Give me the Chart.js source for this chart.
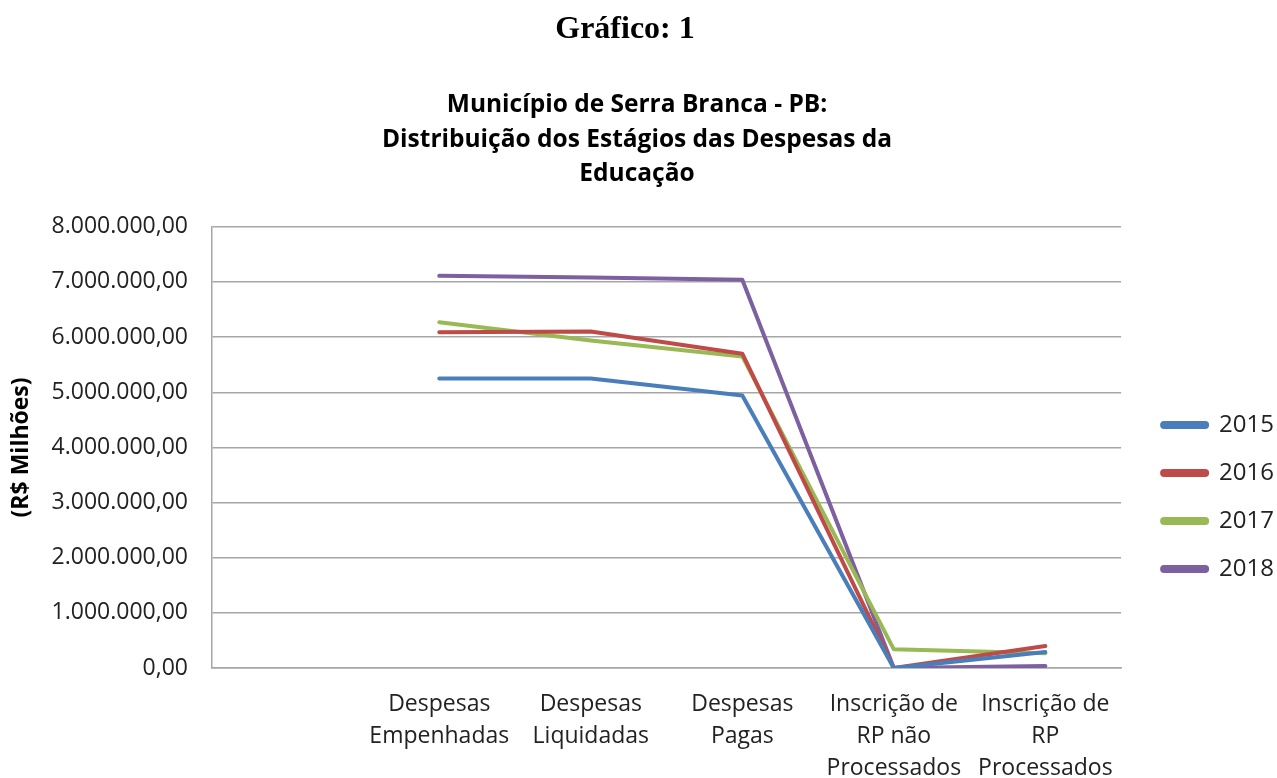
<!DOCTYPE html>
<html>
<head>
<meta charset="utf-8">
<script src="https://cdn.jsdelivr.net/npm/chart.js@4.4.1/dist/chart.umd.min.js"></script>
<style>
html,body{margin:0;padding:0;background:#fff;}
#wrap{width:1277px;height:778px;position:relative;}
</style>
</head>
<body>
<div id="wrap"><canvas id="c" width="1277" height="778"></canvas></div>
<script>
const categories = ['', ['Despesas','Empenhadas'], ['Despesas','Liquidadas'], ['Despesas','Pagas'], ['Inscrição de','RP não','Processados'], ['Inscrição de','RP','Processados']];
const years = ['2015','2016','2017','2018'];
const v2015 = [null, 5250000, 5250000, 4940000, 0, 290000];
const v2016 = [null, 6090000, 6100000, 5700000, 0, 400000];
const v2017 = [null, 6270000, 5940000, 5650000, 340000, 270000];
const v2018 = [null, 7110000, 7080000, 7040000, 0, 40000];
const yTicks = [0,1000000,2000000,3000000,4000000,5000000,6000000,7000000,8000000];
const colors = ['#4a7ebb','#be4b48','#98b954','#7d60a0'];

function fmt(v){
  const s = Math.round(v).toString().replace(/\B(?=(\d{3})+(?!\d))/g,'.');
  return s + ',00';
}
const series = [v2015, v2016, v2017, v2018];
const FONT = 'Open Sans';
new Chart(document.getElementById('c'), {
  type: 'line',
  data: {
    labels: categories,
    datasets: series.map((d,i)=>({
      label: years[i], data: d, borderColor: colors[i], backgroundColor: colors[i],
      borderWidth: 4, pointRadius: 0, tension: 0, borderCapStyle: 'round', borderJoinStyle: 'round'
    }))
  },
  options: {
    responsive: false, animation: false,
    layout: {padding: {left: -10, right: -7, top: 0, bottom: -26}},
    plugins: {
      title: {display: true, text: 'Gráfico: 1\u00A0\u00A0\u00A0', color: '#000',
        font: {family: 'Liberation Serif', size: 32, weight: 'bold', lineHeight: 1.2},
        padding: {top: 11, bottom: 38}},
      subtitle: {display: true, color: '#000',
        text: ['Município de Serra Branca - PB:', 'Distribuição dos Estágios das Despesas da', 'Educação'],
        font: {family: FONT, size: 24.5, weight: 'bold', lineHeight: 1.42},
        padding: {top: 0, bottom: 35}},
      legend: {position: 'right', align: 'center',
        title: {display: true, text: ' ', font: {size: 10, lineHeight: 1}, padding: {top: 0, bottom: 180}},
        labels: {boxWidth: 45, boxHeight: 4, padding: 24, color: '#222', useBorderRadius: true, borderRadius: 2,
          font: {family: FONT, size: 24}}},
      tooltip: {enabled: false}
    },
    scales: {
      x: {type: 'category', offset: true,
        grid: {display: false, drawTicks: false},
        border: {display: true, color: '#a6a6a6', width: 1.5},
        ticks: {color: '#222', maxRotation: 0, autoSkip: false, padding: 20,
          font: {family: FONT, size: 23, lineHeight: 1.39}}},
      y: {min: 0, max: 8000000,
        afterBuildTicks: (s)=>{ s.ticks = yTicks.map(v=>({value:v})); },
        afterFit: (s)=>{ s.width = 222; },
        grid: {color: '#a6a6a6', lineWidth: 1.5, drawTicks: false},
        border: {display: true, color: '#a6a6a6', width: 1.5},
        ticks: {color: '#222', padding: 24, callback: (v)=>fmt(v),
          font: {family: FONT, size: 23}},
        title: {display: true, text: '(R$ Milhões)', color: '#000',
          font: {family: FONT, size: 23, weight: 'bold'}, padding: {top: 18, bottom: 0}}},
      y2: {position: 'right', display: true,
        afterFit: (s)=>{ s.width = 17; },
        grid: {display: false, drawTicks: false}, border: {display: false},
        ticks: {display: false}}
    }
  }
});
</script>
</body>
</html>
